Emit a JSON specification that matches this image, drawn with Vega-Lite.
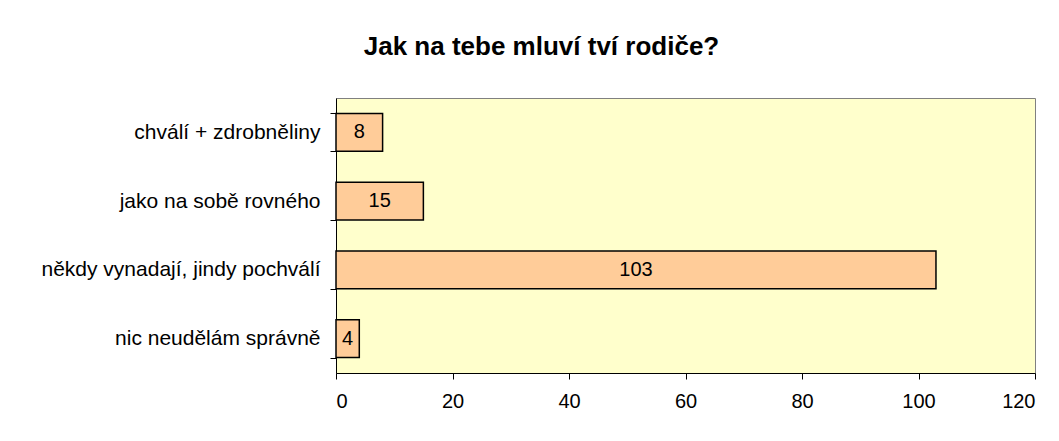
{
  "$schema": "https://vega.github.io/schema/vega-lite/v6.json",
  "autosize": {"type": "none"},
  "width": 699,
  "height": 275,
  "padding": {"left": 336, "top": 98, "right": 24, "bottom": 68},
  "background": "white",
  "title": {
    "text": "Jak na tebe mluví tví rodiče?",
    "font": "Liberation Sans",
    "fontSize": 26,
    "fontWeight": "bold",
    "color": "black",
    "anchor": "middle",
    "frame": "group",
    "baseline": "alphabetic",
    "offset": 6,
    "dx": -144
  },
  "config": {
    "view": {"fill": "#FFFFCC", "stroke": "#808080", "strokeWidth": 1},
    "axis": {
      "labelFont": "Liberation Sans",
      "labelFontSize": 20,
      "labelColor": "black",
      "domainColor": "black",
      "domainWidth": 1,
      "tickColor": "black",
      "tickWidth": 1,
      "tickSize": 6,
      "grid": false,
      "title": null
    }
  },
  "data": {
    "values": [
      {"kategorie": "chválí + zdrobněliny", "pocet": 8},
      {"kategorie": "jako na sobě rovného", "pocet": 15},
      {"kategorie": "někdy vynadají, jindy pochválí", "pocet": 103},
      {"kategorie": "nic neudělám správně", "pocet": 4}
    ]
  },
  "encoding": {
    "y": {
      "field": "kategorie",
      "type": "nominal",
      "sort": null,
      "scale": {"paddingInner": 0.45, "paddingOuter": 0.225},
      "axis": {"tickBand": "extent", "labelPadding": 10, "labelLimit": 400, "labelFontSize": 21}
    }
  },
  "layer": [
    {
      "mark": {"type": "bar", "fill": "#FFCC99", "stroke": "black", "strokeWidth": 1.5},
      "encoding": {
        "x": {
          "field": "pocet",
          "type": "quantitative",
          "scale": {"domain": [0, 120], "nice": false},
          "axis": {"values": [0, 20, 40, 60, 80, 100, 120], "labelPadding": 12}
        }
      }
    },
    {
      "transform": [{"calculate": "datum.pocet / 2", "as": "stred"}],
      "mark": {"type": "text", "font": "Liberation Sans", "fontSize": 20, "color": "black", "baseline": "middle", "align": "center"},
      "encoding": {
        "x": {"field": "stred", "type": "quantitative"},
        "text": {"field": "pocet", "type": "quantitative"}
      }
    }
  ]
}
